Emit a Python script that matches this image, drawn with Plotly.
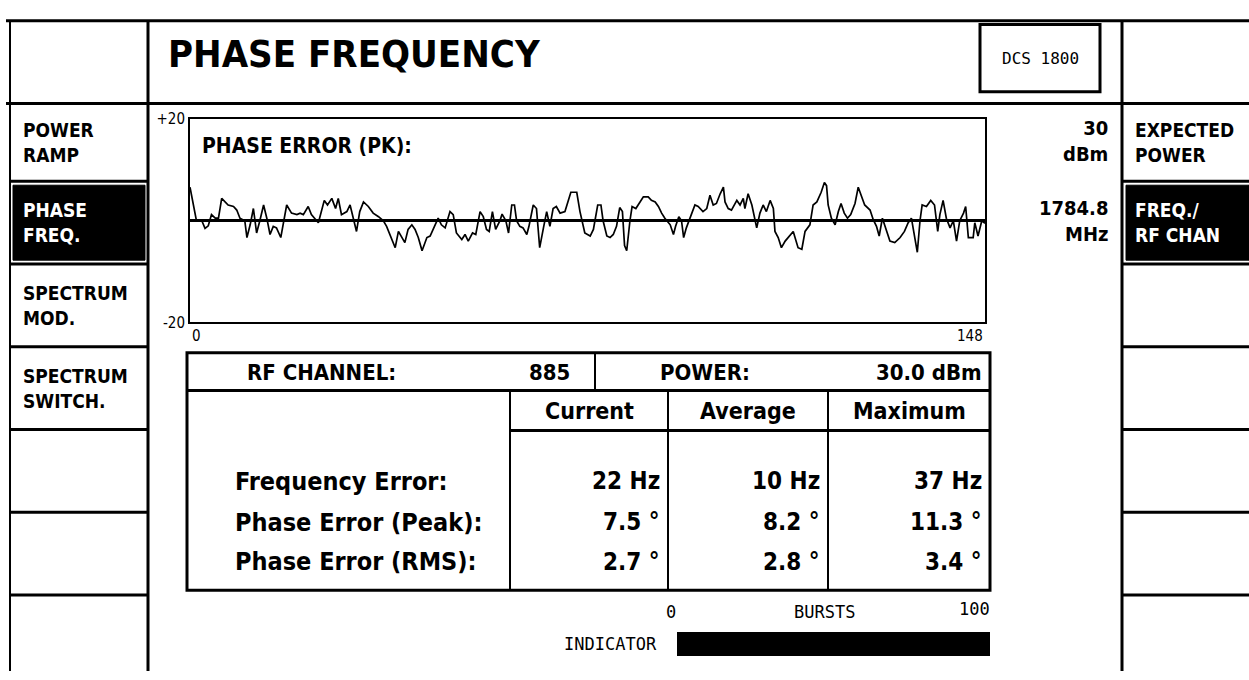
import plotly.graph_objects as go

W, H = 1249, 680

# ---------------- data ----------------
bit_pos = [0.0, 0.6, 1.2, 2.2, 2.8, 3.4, 4.0, 4.7, 5.3, 5.9, 6.5, 7.1, 8.1, 8.7, 9.3, 10.2, 10.6, 11.2, 11.8,
           12.4, 13.0, 13.7, 14.3, 14.9, 15.5, 16.1, 16.9, 17.4, 18.0, 18.9, 19.9, 20.5, 21.1, 22.0, 22.6,
           23.9, 24.5, 25.0, 25.6, 26.4, 27.1, 27.6, 28.2, 29.2, 29.8, 30.4, 31.0, 31.6, 32.3, 33.2, 34.1,
           35.1, 36.0, 36.6, 37.5, 38.2, 38.8, 39.4, 40.0, 40.6, 41.3, 41.9, 42.5, 43.2, 44.1, 44.7, 45.6,
           46.2, 46.8, 47.5, 48.4, 49.0, 49.6, 50.6, 51.2, 51.8, 52.6, 53.2, 54.0, 54.6, 55.2, 55.7, 56.3,
           56.9, 57.7, 58.1, 58.8, 59.3, 59.9, 60.4, 60.8, 61.4, 62.0, 62.7, 63.1, 63.9, 64.5, 65.1, 65.8,
           66.4, 67.0, 67.6, 68.2, 68.9, 69.8, 70.4, 70.9, 72.0, 72.6, 73.5, 74.5, 75.1, 75.9, 76.5, 76.9,
           77.6, 78.2, 78.8, 79.4, 80.0, 80.5, 80.9, 81.3, 81.9, 82.3, 83.0, 83.8, 84.4, 85.3, 85.9, 86.6,
           87.2, 87.8, 88.4, 89.4, 90.0, 90.4, 91.0, 91.5, 91.9, 92.4, 93.4, 94.0, 94.6, 95.5, 96.2, 96.8,
           97.4, 98.0, 98.7, 99.3, 99.6, 100.2, 100.8, 101.8, 102.4, 103.0, 103.3, 103.9, 104.6, 105.2,
           105.5, 106.1, 106.7, 107.3, 108.0, 108.6, 108.9, 109.5, 110.1, 110.8, 111.4, 112.3, 113.2,
           113.9, 114.5, 115.4, 116.0, 116.7, 117.5, 118.1, 118.5, 118.8, 119.4, 120.1, 120.7, 121.2,
           121.8, 122.4, 123.0, 123.8, 124.4, 125.0, 125.6, 126.6, 127.2, 127.8, 128.3, 128.9, 129.7,
           130.3, 131.2, 132.2, 133.0, 133.7, 134.3, 134.9, 135.4, 135.9, 136.3, 137.1, 137.9, 138.6,
           139.2, 139.6, 140.2, 140.8, 141.5, 142.1, 142.7, 143.3, 144.0, 144.4, 144.9, 145.8, 146.1,
           146.7, 147.4, 148.0]
phase_err_deg = [6.6, 3.1, 0.0, 0.0, -1.5, -1.0, 1.2, 0.5, 0.5, 4.4, 3.7, 3.1, 2.8, 2.1, 0.5, 0.0, -3.3, -0.8, 2.4,
                 -2.4, 0.0, 3.1, 0.5, -2.7, -1.1, -1.4, -3.3, 0.0, 3.1, 1.5, 1.2, 1.5, 1.2, 2.8, 1.2,
                 -0.4, 1.8, 4.0, 3.1, 4.4, 2.4, 4.4, 1.2, 1.8, 3.1, 0.5, -2.1, 1.8, 3.7, 2.8, 1.5,
                 0.8, 0.0, -1.1, -3.3, -5.3, -2.1, -3.3, -4.3, -1.7, -0.8, -1.7, -3.3, -5.9, -3.3, -3.0, -0.8,
                 0.5, -0.8, -1.4, 1.8, 1.2, -2.4, -3.7, -2.7, -4.0, -2.4, -2.7, 1.8, 0.8, -1.7, -2.1, 1.8,
                 -1.7, 0.0, 1.3, 0.0, -2.4, 3.1, 3.1, 0.0, -1.1, -1.4, -2.7, -1.1, 3.1, 2.4, -5.3, -1.4,
                 1.8, -1.1, 2.4, 2.8, 1.5, 1.8, 3.7, 5.6, 5.6, 1.8, -2.4, -3.0, -1.7, 3.1, 3.1, 0.0,
                 -3.0, -3.3, -2.7, -1.1, 2.6, 1.8, -4.9, -5.9, 0.0, 2.8, 2.4, 3.7, 4.7, 4.7, 4.0, 3.7,
                 2.8, 1.5, 0.5, -0.8, -2.7, -1.1, 0.8, 0.0, -3.3, -1.4, 1.5, 3.1, 2.8, 1.8, 2.4, 5.0,
                 3.1, 3.4, 5.3, 6.6, 3.7, 2.4, 2.1, 4.0, 3.1, 4.4, 2.4, 5.3, 3.1, -0.4,
                 -1.4, 1.5, 3.1, 1.8, 4.0, 2.4, -2.1, -3.3, -5.3, -4.0, -3.3, -2.1, -5.3,
                 -5.6, -2.1, -0.8, 3.1, 3.7, 5.6, 7.5, 6.9, 3.1, 0.5, -0.8, 1.8, 3.4,
                 1.5, 0.5, 1.2, 3.4, 6.6, 5.0, 3.1, 2.1, 0.2, -1.1, -3.0, 0.5, -2.1,
                 -4.0, -4.3, -3.3, -2.1, -0.4, 0.5, -3.3, -6.2, 0.0, 3.1, 2.8, 4.0, 3.1,
                 -2.1, 1.2, 4.0, 0.5, -1.4, 0.0, -4.0, 0.0, 1.5, 2.8, -3.3, -3.3, -0.4,
                 -3.0, 0.0, -0.5]

y_range = [-20, 20]
y_tick_vals = [-20, 20]
y_tick_text = ["-20", "+20"]
x_range = [0, 148]
x_tick_text = ["0", "148"]

title_text = "PHASE FREQUENCY"
standard = "DCS 1800"
plot_title = "PHASE ERROR (PK):"

left_menu = ["POWER<br>RAMP", "PHASE<br>FREQ.", "SPECTRUM<br>MOD.", "SPECTRUM<br>SWITCH.", "", ""]
left_active = 1
right_menu = ["EXPECTED<br>POWER", "FREQ./<br>RF CHAN", "", "", "", ""]
right_active = 1
expected_power = ["30", "dBm"]
rf_freq = ["1784.8", "MHz"]

rf_channel = 885
power_dbm = 30.0
col_headers = ["Current", "Average", "Maximum"]
row_labels = ["Frequency Error:", "Phase Error (Peak):", "Phase Error (RMS):"]
freq_err_hz = [22, 10, 37]
phase_err_peak = [7.5, 8.2, 11.3]
phase_err_rms = [2.7, 2.8, 3.4]

bursts_done = 100
bursts_total = 100

# ---------------- helpers ----------------
FONT = "Liberation Sans Narrow, DejaVu Sans Condensed, Arial Narrow, sans-serif"
MONO = "DejaVu Sans Mono, Liberation Mono, monospace"


def px(x):
    return x / W


def py(y):
    return 1 - y / H


shapes = []
annotations = []


def line(x0, y0, x1, y1, w=2):
    shapes.append(dict(type="line", xref="paper", yref="paper", x0=px(x0), y0=py(y0), x1=px(x1), y1=py(y1),
                       line=dict(color="black", width=w)))


def rect(x0, y0, x1, y1, w=2, fill=None):
    shapes.append(dict(type="rect", xref="paper", yref="paper", x0=px(x0), y0=py(y0), x1=px(x1), y1=py(y1),
                       line=dict(color="black", width=w), fillcolor=fill if fill else "rgba(0,0,0,0)",
                       layer="below" if fill else "above"))


def text(x, y, t, size=23, color="black", xanchor="left", bold=True, family=FONT, align="left"):
    annotations.append(dict(xref="paper", yref="paper", x=px(x), y=py(y), text=(f"<b>{t}</b>" if bold else t),
                            showarrow=False, xanchor=xanchor, yanchor="middle", align=align,
                            font=dict(family=family, size=size, color=color)))


# ---------------- frame ----------------
line(6, 12, W, 12, 3)
line(10, 12, 10, H, 2)
line(148, 12, 148, H, 3)
line(1122, 12, 1122, H, 3)
line(6, 97, W, 97, 3)

text(166, 46, title_text, size=38)
rect(980, 16, 1100, 85, 3)
text(1040, 51, standard, size=16, bold=False, family=MONO, xanchor="center")

# menus
seps = [177, 262, 347, 432, 517, 602]
cell_tops = [97] + seps[:-1]
for s in seps:
    line(10, s, 148, s, 3)
    line(1122, s, W, s, 3)
MENU_SIZE = 19
for i, lab in enumerate(left_menu):
    top, bot = cell_tops[i], seps[i]
    if i == left_active:
        rect(13, top + 4, 145, bot - 4, 1, fill="black")
    if lab:
        text(21, (top + bot) / 2, lab, size=MENU_SIZE, color="white" if i == left_active else "black")
for i, lab in enumerate(right_menu):
    top, bot = cell_tops[i], seps[i]
    if i == right_active:
        rect(1126, top + 4, W, bot - 4, 1, fill="black")
    if lab:
        text(1133, (top + bot) / 2, lab, size=MENU_SIZE, color="white" if i == right_active else "black")

text(1110, 136, "<br>".join(expected_power), size=20, xanchor="right", align="right")
text(1110, 218, "<br>".join(rf_freq), size=20, xanchor="right", align="right")

# ---------------- plot ----------------
PX0, PX1, PY0, PY1 = 190, 985, 113, 322
fig = go.Figure()
fig.add_trace(go.Scatter(x=bit_pos, y=phase_err_deg, mode="lines",
                         line=dict(color="black", width=1.7), hoverinfo="skip", showlegend=False))

text(200, 141, plot_title, size=21)
annotations.append(dict(xref="x", yref="paper", x=x_range[0], y=py(336), text=x_tick_text[0], showarrow=False,
                        xanchor="left", yanchor="middle", font=dict(family=FONT, size=15, color="black")))
annotations.append(dict(xref="x", yref="paper", x=x_range[1], y=py(336), text=x_tick_text[1], showarrow=False,
                        xanchor="right", yanchor="middle", font=dict(family=FONT, size=15, color="black")))

# ---------------- table ----------------
TX0, TX1 = 187, 990
TY0, TY1, TY2, TY3 = 353, 392, 433, 597
rect(TX0, TY0, TX1, TY3, 3)
line(TX0, TY1, TX1, TY1, 3)
line(595, TY0, 595, TY1, 2)
line(510, TY2, TX1, TY2, 3)
col_edges = [510, 668, 828, 990]
for cx in col_edges[:-1]:
    line(cx, TY1, cx, TY3, 2)

TS = 22
text(245, 373, "RF CHANNEL:", size=TS)
text(572, 373, f"{rf_channel}", size=TS, xanchor="right")
text(658, 373, "POWER:", size=TS)
text(984, 373, f"{power_dbm:.1f} dBm", size=TS, xanchor="right")

for j, h in enumerate(col_headers):
    text((col_edges[j] + col_edges[j + 1]) / 2, 413, h, size=TS + 1, xanchor="center")

row_y = [485, 527, 568]
rows = [[f"{v} Hz" for v in freq_err_hz],
        [f"{v:.1f} °" for v in phase_err_peak],
        [f"{v:.1f} °" for v in phase_err_rms]]
for i, lab in enumerate(row_labels):
    text(233, row_y[i], lab, size=TS + 3)
    for j, val in enumerate(rows[i]):
        text(col_edges[j + 1] - 6, row_y[i], val, size=TS + 2, xanchor="right")

# ---------------- bursts indicator ----------------
BX0, BX1, BY0, BY1 = 677, 990, 640, 665
fig.add_trace(go.Bar(x=[bursts_done], y=[0], orientation="h", xaxis="x2", yaxis="y2", width=1,
                     marker=dict(color="black", line=dict(width=0)), hoverinfo="skip", showlegend=False))
text(671, 619, "0", size=17, bold=False, family=MONO, xanchor="center")
text(824, 619, "BURSTS", size=17, bold=False, family=MONO, xanchor="center")
text(992, 616, f"{bursts_total}", size=17, bold=False, family=MONO, xanchor="right")
text(659, 652, "INDICATOR", size=17, bold=False, family=MONO, xanchor="right")

fig.update_layout(
    width=W, height=H, margin=dict(l=0, r=0, t=0, b=0),
    paper_bgcolor="white", plot_bgcolor="white", showlegend=False,
    shapes=shapes, annotations=annotations, bargap=0,
    xaxis=dict(domain=[px(PX0), px(PX1)], range=x_range, showgrid=False, zeroline=False,
               showline=True, linecolor="black", linewidth=2, mirror=True, showticklabels=False, ticks=""),
    yaxis=dict(domain=[py(PY1), py(PY0)], range=y_range, showgrid=False, zeroline=True,
               zerolinecolor="black", zerolinewidth=3, showline=True, linecolor="black", linewidth=2,
               mirror=True, tickvals=y_tick_vals, ticktext=y_tick_text, ticks="",
               tickfont=dict(family=FONT, size=15, color="black")),
    xaxis2=dict(domain=[px(BX0), px(BX1)], range=[0, bursts_total], visible=False, anchor="y2"),
    yaxis2=dict(domain=[py(BY1), py(BY0)], range=[-0.5, 0.5], visible=False, anchor="x2"),
)

fig.write_html("out.html", config={"displayModeBar": False},
               post_script="document.body.style.margin='0';document.body.style.overflow='hidden';")
